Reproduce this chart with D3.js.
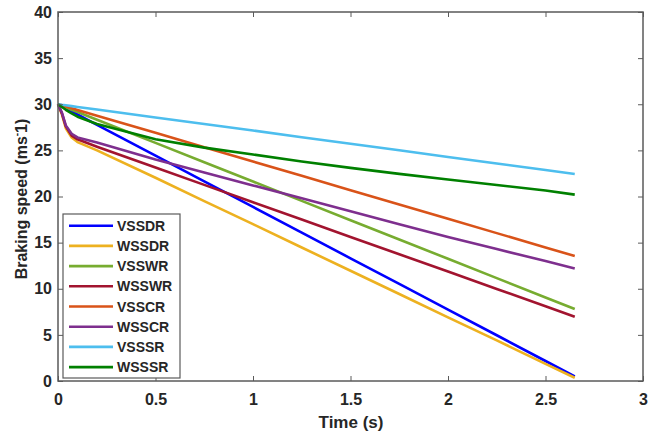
<!DOCTYPE html>
<html><head><meta charset="utf-8">
<script src="https://cdn.jsdelivr.net/npm/d3@7"></script>
<style>body{margin:0;background:#fff}svg{display:block}text{font-family:"Liberation Sans",Arial,sans-serif;font-weight:bold;fill:#262626}</style>
</head><body><svg id="c" width="659" height="439"></svg>
<script>
const time   = [0, 0.02, 0.04, 0.07, 0.1, 0.2, 0.5, 0.75, 1.0, 1.25, 1.5, 1.75, 2.0, 2.25, 2.5, 2.65];
const VSSDR  = [30, 29.78, 29.55, 29.22, 28.89, 27.77, 24.43, 21.65, 18.87, 16.09, 13.3, 10.52, 7.74, 4.96, 2.17, 0.5];
const WSSDR  = [30, 28.9, 27.4, 26.4, 25.9, 25.0, 22.03, 19.5, 17.0, 14.47, 11.95, 9.43, 6.9, 4.4, 1.86, 0.35];
const VSSWR  = [30, 29.83, 29.66, 29.41, 29.16, 28.32, 25.81, 23.72, 21.62, 19.53, 17.43, 15.34, 13.25, 11.15, 9.06, 7.8];
const WSSWR  = [30, 29.0, 27.6, 26.6, 26.2, 25.4, 23.14, 21.26, 19.38, 17.5, 15.62, 13.74, 11.86, 9.98, 8.1, 6.97];
const VSSCR  = [30, 29.88, 29.75, 29.57, 29.38, 28.76, 26.9, 25.34, 23.79, 22.24, 20.69, 19.14, 17.58, 16.03, 14.48, 13.55];
const WSSCR  = [30, 29.1, 27.7, 26.8, 26.4, 25.85, 24.0, 22.6, 21.2, 19.8, 18.4, 17.0, 15.6, 14.3, 13.0, 12.2];
const VSSSR  = [30, 29.94, 29.89, 29.8, 29.71, 29.43, 28.57, 27.86, 27.15, 26.43, 25.72, 25.01, 24.29, 23.58, 22.87, 22.44];
const WSSSR  = [30, 29.7, 29.4, 29.0, 28.65, 27.85, 26.2, 25.3, 24.55, 23.8, 23.1, 22.45, 21.85, 21.25, 20.65, 20.2];
const seriesNames = ["VSSDR","WSSDR","VSSWR","WSSWR","VSSCR","WSSCR","VSSSR","WSSSR"];
const seriesValues = [VSSDR, WSSDR, VSSWR, WSSWR, VSSCR, WSSCR, VSSSR, WSSSR];
const colors = ["#0000FF","#EDB120","#77AC30","#A2142F","#D95319","#7E2F8E","#4DBEEE","#008000"];
const xTicks = [0, 0.5, 1, 1.5, 2, 2.5, 3];
const yTicks = [0, 5, 10, 15, 20, 25, 30, 35, 40];

const svg = d3.select("#c");
const L = 58, R = 643, T = 12, B = 381;
const x = d3.scaleLinear().domain([0, 3]).range([L, R]);
const y = d3.scaleLinear().domain([0, 40]).range([B, T]);
const axisCol = "#5a5a5a";

// lines
const line = d3.line().x((d, i) => x(time[i])).y(d => y(d));
seriesValues.forEach((vals, k) => {
  svg.append("path").datum(vals).attr("d", line)
    .attr("fill", "none").attr("stroke", colors[k]).attr("stroke-width", 2.6)
    .attr("stroke-linejoin", "round");
});

const styleText = g => g.selectAll("text").attr("font-size", 16)
  .style("font-family", "Liberation Sans, Arial").style("font-weight", "bold").attr("fill", "#262626");

// axes
svg.append("g").attr("transform", `translate(0,${B})`)
  .call(d3.axisBottom(x).tickValues(xTicks).tickSize(-5).tickPadding(13).tickFormat(d3.format("")))
  .call(g => { g.select(".domain").remove(); g.selectAll("line").attr("stroke", axisCol); })
  .call(styleText);
svg.append("g").attr("transform", `translate(0,${T})`)
  .call(d3.axisTop(x).tickValues(xTicks).tickSize(-5).tickFormat(""))
  .call(g => { g.select(".domain").remove(); g.selectAll("line").attr("stroke", axisCol); });
svg.append("g").attr("transform", `translate(${L},0)`)
  .call(d3.axisLeft(y).tickValues(yTicks).tickSize(-5).tickPadding(6))
  .call(g => { g.select(".domain").remove(); g.selectAll("line").attr("stroke", axisCol); })
  .call(styleText);
svg.append("g").attr("transform", `translate(${R},0)`)
  .call(d3.axisRight(y).tickValues(yTicks).tickSize(-5).tickFormat(""))
  .call(g => { g.select(".domain").remove(); g.selectAll("line").attr("stroke", axisCol); });
svg.append("rect").attr("x", L).attr("y", T).attr("width", R - L).attr("height", B - T)
  .attr("fill", "none").attr("stroke", axisCol).attr("stroke-width", 1.5);

// axis titles
svg.append("text").attr("x", 351).attr("y", 428).attr("text-anchor", "middle")
  .attr("font-size", 17).text("Time (s)");
const yl = svg.append("text").attr("transform", `translate(27,199) rotate(-90)`)
  .attr("text-anchor", "middle").attr("font-size", 16);
yl.append("tspan").text("Braking speed (ms");
yl.append("tspan").attr("font-size", 10).attr("dy", -7).text("-");
yl.append("tspan").attr("dy", 7).text("1)");

// legend
const lg = svg.append("g");
lg.append("rect").attr("x", 63).attr("y", 214).attr("width", 117).attr("height", 164)
  .attr("fill", "#fff").attr("stroke", axisCol).attr("stroke-width", 1.2);
seriesNames.forEach((n, k) => {
  const yy = 225.7 + k * 20.2;
  lg.append("line").attr("x1", 69).attr("x2", 113).attr("y1", yy).attr("y2", yy)
    .attr("stroke", colors[k]).attr("stroke-width", 2.6);
  lg.append("text").attr("x", 117).attr("y", yy + 5).attr("font-size", 14).text(n);
});
</script></body></html>
